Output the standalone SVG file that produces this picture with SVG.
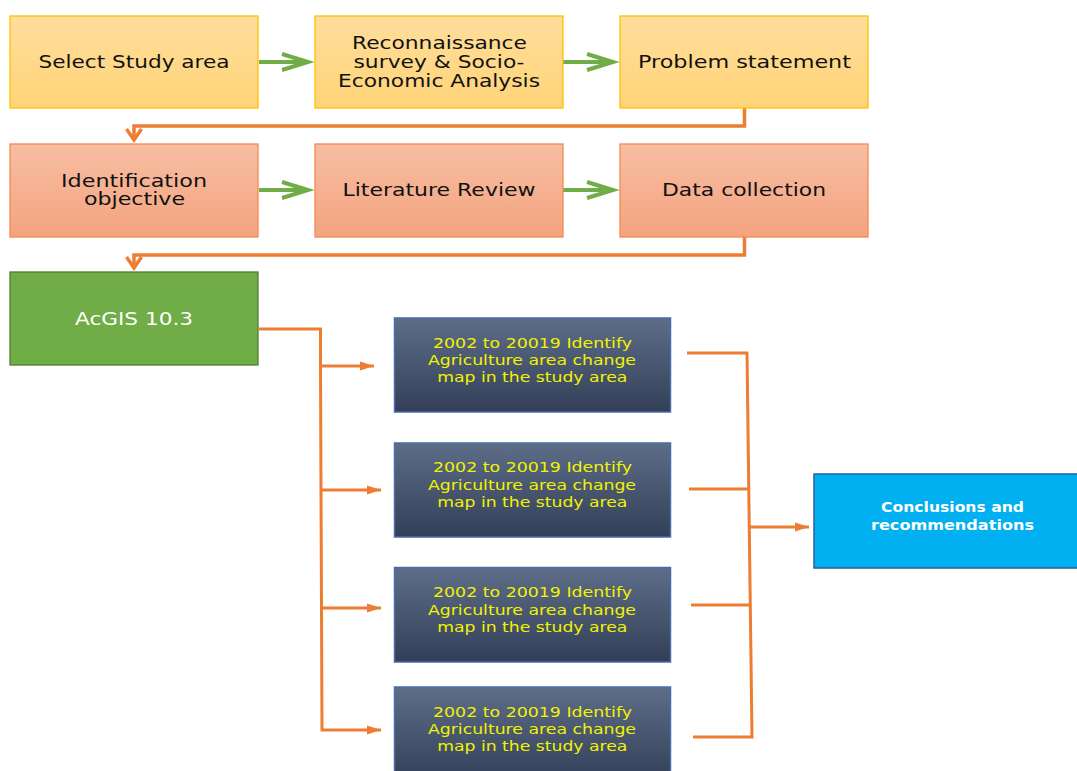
<svg xmlns="http://www.w3.org/2000/svg" width="1077" height="771" viewBox="0 0 1077 771">
<style>
text{font-family:"DejaVu Sans","Liberation Sans",sans-serif;text-anchor:middle}
.t17{font-size:17.5px;fill:#111}
.tw{font-size:17.5px;fill:#fff}
.ty{font-size:14px;fill:#f2f200}
.tc{font-size:13.5px;fill:#fff;font-weight:bold}
.y{fill:url(#gy);stroke:#FFC000;stroke-width:1.3}
.s{fill:url(#gs);stroke:#F4894F;stroke-width:1.3}
.g{fill:#70AD47;stroke:#507E32;stroke-width:1.3}
.d{fill:url(#gd);stroke:#4A6CA8;stroke-width:1.5}
.c{fill:#00B0F0;stroke:#2E5C9A;stroke-width:1.5}
.ga{stroke:#70AD47;stroke-width:4;fill:none}
.oa{stroke:#ED7D31;stroke-width:3.5;fill:none}
.ob{stroke:#ED7D31;stroke-width:3;fill:none}
</style>
<defs>
<linearGradient id="gy" x1="0" y1="0" x2="0" y2="1"><stop offset="0" stop-color="#FFDE9C"/><stop offset="1" stop-color="#FFD478"/></linearGradient>
<linearGradient id="gs" x1="0" y1="0" x2="0" y2="1"><stop offset="0" stop-color="#F7BEA3"/><stop offset="1" stop-color="#F4A37F"/></linearGradient>
<linearGradient id="gd" x1="0" y1="0" x2="0" y2="1"><stop offset="0" stop-color="#5D6D88"/><stop offset="1" stop-color="#333F58"/></linearGradient>
<marker id="mg" markerUnits="userSpaceOnUse" markerWidth="30" markerHeight="20" refX="26" refY="8" orient="auto" overflow="visible"><path d="M0,0 L26,8 L0,16" fill="none" stroke="#70AD47" stroke-width="4"/></marker>
<marker id="mo" markerUnits="userSpaceOnUse" markerWidth="16" markerHeight="18" refX="11" refY="7.5" orient="auto" overflow="visible"><path d="M0,0 L11,7.5 L0,15" fill="none" stroke="#ED7D31" stroke-width="3.5"/></marker>
<marker id="mt" markerUnits="userSpaceOnUse" markerWidth="16" markerHeight="12" refX="14" refY="4.5" orient="auto" overflow="visible"><path d="M0,0 L14,4.5 L0,9 z" fill="#ED7D31"/></marker>
</defs>
<g id="connectors">
<path class="ga" d="M259,62 H308" marker-end="url(#mg)"/>
<path class="ga" d="M563,62 H613" marker-end="url(#mg)"/>
<path class="ga" d="M259,190 H308" marker-end="url(#mg)"/>
<path class="ga" d="M563,190 H613" marker-end="url(#mg)"/>
<path class="oa" d="M744.5,108 V126 H134 V140" marker-end="url(#mo)"/>
<path class="oa" d="M744.5,237 V255 H134 V268" marker-end="url(#mo)"/>
<path class="ob" d="M259,329 H320.5 V366"/>
<path class="ob" d="M320.5,366 L322,730 H381" marker-end="url(#mt)"/>
<path class="ob" d="M320.5,366 H374" marker-end="url(#mt)"/>
<path class="ob" d="M321,490 H381" marker-end="url(#mt)"/>
<path class="ob" d="M321.5,608 H381" marker-end="url(#mt)"/>
<path class="ob" d="M687,353 H747 L752,737 H693"/>
<path class="ob" d="M689,489 H748"/>
<path class="ob" d="M691,605 H749.5"/>
<path class="ob" d="M749,527 H809" marker-end="url(#mt)"/>
</g>
<g id="n1"><rect class="y" x="10" y="16" width="248" height="92"/><text class="t17" x="134" y="68" textLength="191" lengthAdjust="spacingAndGlyphs">Select Study area</text></g>
<g id="n2"><rect class="y" x="315" y="16" width="248" height="92"/><text class="t17" x="439.5" y="48.7" textLength="175" lengthAdjust="spacingAndGlyphs">Reconnaissance</text><text class="t17" x="439" y="67.7" textLength="171" lengthAdjust="spacingAndGlyphs">survey &amp; Socio-</text><text class="t17" x="439" y="86.7" textLength="202" lengthAdjust="spacingAndGlyphs">Economic Analysis</text></g>
<g id="n3"><rect class="y" x="620" y="16" width="248" height="92"/><text class="t17" x="744.5" y="68" textLength="213" lengthAdjust="spacingAndGlyphs">Problem statement</text></g>
<g id="n4"><rect class="s" x="10" y="144" width="248" height="93"/><text class="t17" x="134" y="186.7" textLength="146" lengthAdjust="spacingAndGlyphs">Identification</text><text class="t17" x="134.5" y="205.3" textLength="101" lengthAdjust="spacingAndGlyphs">objective</text></g>
<g id="n5"><rect class="s" x="315" y="144" width="248" height="93"/><text class="t17" x="439" y="196" textLength="193" lengthAdjust="spacingAndGlyphs">Literature Review</text></g>
<g id="n6"><rect class="s" x="620" y="144" width="248" height="93"/><text class="t17" x="744" y="196" textLength="164" lengthAdjust="spacingAndGlyphs">Data collection</text></g>
<g id="n7"><rect class="g" x="10" y="272" width="248" height="93"/><text class="tw" x="134" y="325" textLength="118" lengthAdjust="spacingAndGlyphs">AcGIS 10.3</text></g>
<g id="n8"><rect class="d" x="394.5" y="318" width="276" height="94"/><text class="ty" x="532.5" y="347.7" textLength="199" lengthAdjust="spacingAndGlyphs">2002 to 20019 Identify</text><text class="ty" x="532" y="365" textLength="208" lengthAdjust="spacingAndGlyphs">Agriculture area change</text><text class="ty" x="532.3" y="382" textLength="190" lengthAdjust="spacingAndGlyphs">map in the study area</text></g>
<g id="n9"><rect class="d" x="394.5" y="443" width="276" height="94"/><text class="ty" x="532.5" y="472.2" textLength="199" lengthAdjust="spacingAndGlyphs">2002 to 20019 Identify</text><text class="ty" x="532" y="489.5" textLength="208" lengthAdjust="spacingAndGlyphs">Agriculture area change</text><text class="ty" x="532.3" y="506.5" textLength="190" lengthAdjust="spacingAndGlyphs">map in the study area</text></g>
<g id="n10"><rect class="d" x="394.5" y="567.5" width="276" height="94.5"/><text class="ty" x="532.5" y="597" textLength="199" lengthAdjust="spacingAndGlyphs">2002 to 20019 Identify</text><text class="ty" x="532" y="614.5" textLength="208" lengthAdjust="spacingAndGlyphs">Agriculture area change</text><text class="ty" x="532.3" y="631.7" textLength="190" lengthAdjust="spacingAndGlyphs">map in the study area</text></g>
<g id="n11"><rect class="d" x="394.5" y="687" width="276" height="95"/><text class="ty" x="532.5" y="716.5" textLength="199" lengthAdjust="spacingAndGlyphs">2002 to 20019 Identify</text><text class="ty" x="532" y="734" textLength="208" lengthAdjust="spacingAndGlyphs">Agriculture area change</text><text class="ty" x="532.3" y="751.2" textLength="190" lengthAdjust="spacingAndGlyphs">map in the study area</text></g>
<g id="n12"><rect class="c" x="814" y="474" width="264" height="94"/><text class="tc" x="952.5" y="511.5" textLength="143" lengthAdjust="spacingAndGlyphs">Conclusions and</text><text class="tc" x="952.5" y="529.5" textLength="163" lengthAdjust="spacingAndGlyphs">recommendations</text></g>
</svg>
